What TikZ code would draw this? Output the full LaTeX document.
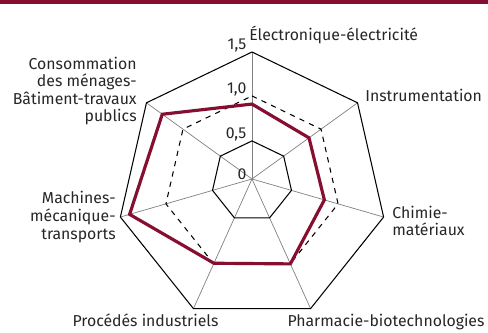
\documentclass[tikz,border=0pt]{standalone}
\usepackage{fontspec}
\setmainfont{Fira Sans}
\usetikzlibrary{calc}
\definecolor{bordeaux}{RGB}{134,14,48}
\tikzset{
  axe/.style={gray, line width=0.4pt},
  grille/.style={black, line width=0.6pt},
  serie/.style={bordeaux, line width=1.8pt},
  etiq/.style={inner sep=0pt, text=black!85, font=\fontsize{9}{10}\selectfont},
  grad/.style={etiq, anchor=south east, xshift=-3pt, yshift=-0.5pt}
}

\begin{document}
\begin{tikzpicture}[x=0.02cm,y=0.02cm]
\useasboundingbox (-252,-154) rectangle (236,179);
\fill [bordeaux] (-252,175) rectangle (236,179);
\coordinate (O) at (0,0);
% sommets : heptagone exterieur (1,5), puis 0,5 et 1,0
\foreach \i in {0,...,6} {
  \coordinate (v\i) at ($(0,-8)+({90-\i*360/7}:135)$);
  \coordinate (a\i) at ($(O)!0.30!(v\i)$);
  \coordinate (b\i) at ($(O)!0.654!(v\i)$);
}
% la serie
\foreach \i/\f in {0/0.59,1/0.54,2/0.55,3/0.655,4/0.65,5/0.93,6/0.85}
  \coordinate (s\i) at ($(O)!\f!(v\i)$);
\foreach \i in {0,...,6} \draw [axe] (O) -- (v\i);
\draw [grille] (v0) \foreach \i in {1,...,6}{-- (v\i)} -- cycle;
\draw [grille] (a0) \foreach \i in {1,...,6}{-- (a\i)} -- cycle;
\draw [grille, dashed] (b0) \foreach \i in {1,...,6}{-- (b\i)} -- cycle;
\draw [serie] (s0) \foreach \i in {1,...,6}{-- (s\i)} -- cycle;
% graduations
\node [grad] (g0) at (O) {0};
\node [grad] (g05) at (a0) {0,5};
\node [grad] (g10) at (b0) {1,0};
\node [grad] (g15) at (v0) {1,5};
% secteurs
\node [etiq, anchor=base west] (elec) at (-3,138) {Électronique-électricité};
\node [etiq, anchor=base west] (instr) at (113,77) {Instrumentation};
\node [etiq, anchor=west, align=left] (chim) at (140,-42) {Chimie-\\matériaux};
\node [etiq, anchor=base] (pharma) at (134,-148) {Pharmacie-biotechnologies};
\node [etiq, anchor=base] (proc) at (-106.5,-148) {Procédés industriels};
\node [etiq, anchor=east, align=right] (mach) at (-136,-38) {Machines-\\mécanique-\\transports};
\node [etiq, anchor=east, align=right] (conso) at (-115,88) {Consommation\\des ménages-\\Bâtiment-travaux\\publics};
\end{tikzpicture}
\end{document}
